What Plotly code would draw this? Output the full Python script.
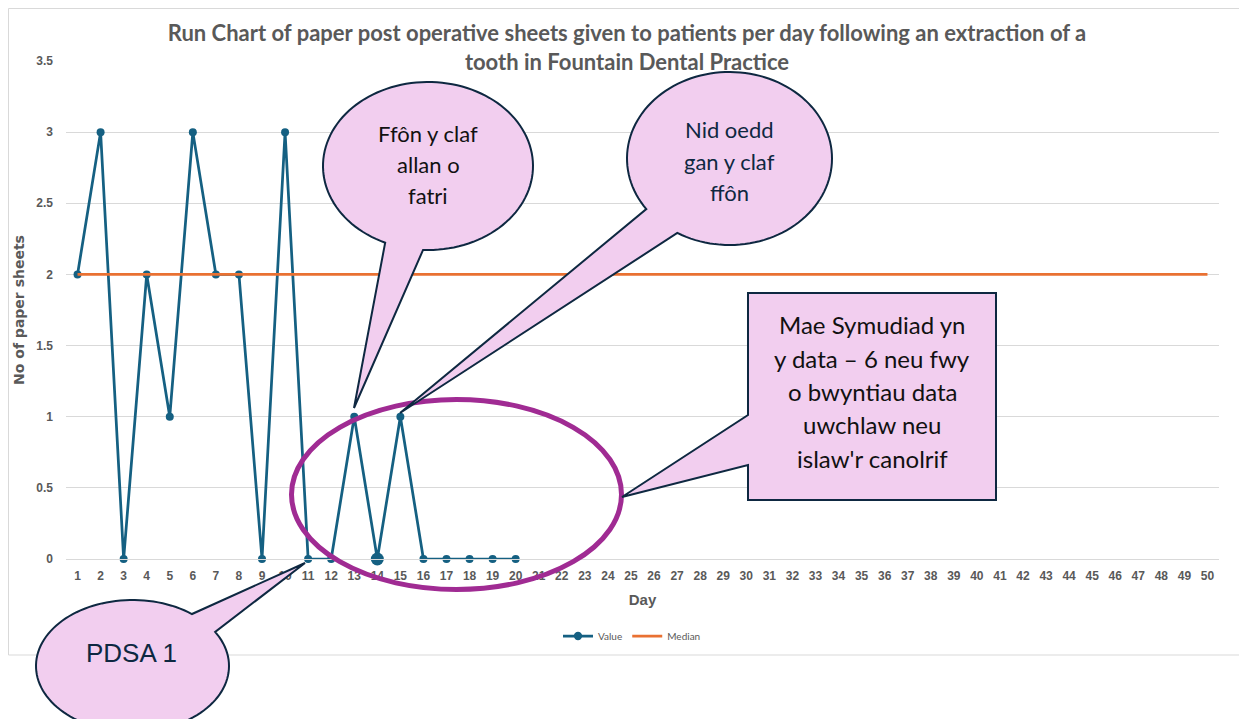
import math
import plotly.graph_objects as go

# ---------------- data ----------------
days = list(range(1, 51))
value_days = list(range(1, 21))
values = [2, 3, 0, 2, 1, 3, 2, 2, 0, 3, 0, 0, 1, 0, 1, 0, 0, 0, 0, 0]
median_value = 2
median_series = [median_value for _ in days]
y_ticks = [0, 0.5, 1, 1.5, 2, 2.5, 3, 3.5]
y_tick_labels = ["0", "0.5", "1", "1.5", "2", "2.5", "3", "3.5"]
highlight_day = 14

title_text = ("Run Chart of paper post operative sheets given to patients per day following an extraction of a"
              "<br>tooth in Fountain Dental Practice")

# ---------------- layout geometry (screen pixels; page has 8px body margin) ----------------
OFF = 8
W, H = 1231, 711
ML, MR, MT, MB = 58, 20, 53, 160
PW, PH = W - ML - MR, H - MT - MB
X0, Y0 = OFF + ML, OFF + MT + PH   # screen position of plot-area left / bottom


def px(x):
    return (x - X0) / PW


def py(y):
    return (Y0 - y) / PH


def path_from(points):
    return "M " + " L ".join(f"{px(x):.5f},{py(y):.5f}" for x, y in points) + " Z"


def ellipse_points(cx, cy, rx, ry, a0, a1, n=120):
    pts = []
    for i in range(n + 1):
        a = a0 + (a1 - a0) * i / n
        pts.append((cx + rx * math.cos(a), cy + ry * math.sin(a)))
    return pts


def wedge_ellipse(cx, cy, rx, ry, b1, b2, tip):
    a1 = math.atan2((b1[1] - cy) / ry, (b1[0] - cx) / rx)
    a2 = math.atan2((b2[1] - cy) / ry, (b2[0] - cx) / rx)
    end = a1
    while end <= a2:
        end += 2 * math.pi
    if end - a2 < math.pi:
        end = a1
        while end >= a2:
            end -= 2 * math.pi
    pts = ellipse_points(cx, cy, rx, ry, a2, end)
    pts.append(tip)
    return path_from(pts)


pink = "#F2CEEF"
navy = "#0E2841"

sizes = [13 if d == highlight_day else 8 for d in value_days]

fig = go.Figure()
fig.add_trace(go.Scatter(
    x=value_days, y=values, mode="lines+markers", name="Value",
    line=dict(color="#156082", width=2.75),
    marker=dict(color="#156082", size=sizes, line=dict(width=0), opacity=1),
    cliponaxis=False,
))
fig.add_trace(go.Scatter(
    x=days, y=median_series, mode="lines", name="Median",
    line=dict(color="#E97132", width=2.75),
    cliponaxis=False,
))

shapes = []
shapes.append(dict(type="rect", xref="paper", yref="paper",
                   x0=px(8.5), x1=px(1270), y0=py(655), y1=py(8.5),
                   line=dict(color="#D9D9D9", width=1), fillcolor="rgba(0,0,0,0)", layer="below"))
shapes.append(dict(type="circle", xref="paper", yref="paper",
                   x0=px(456.5 - 165), x1=px(456.5 + 165), y0=py(494.5 + 95), y1=py(494.5 - 95),
                   line=dict(color="#A02B93", width=5), fillcolor="rgba(0,0,0,0)"))
shapes.append(dict(type="path", xref="paper", yref="paper",
                   path=wedge_ellipse(428, 166, 105, 84, (385, 243), (423, 251), (354, 408)),
                   fillcolor=pink, line=dict(color=navy, width=2)))
shapes.append(dict(type="path", xref="paper", yref="paper",
                   path=wedge_ellipse(729.5, 158.5, 102.5, 86.5, (648, 208), (678, 232), (400, 413)),
                   fillcolor=pink, line=dict(color=navy, width=2)))
shapes.append(dict(type="path", xref="paper", yref="paper",
                   path=wedge_ellipse(132.5, 666, 96.5, 66, (192, 614), (215, 632), (305, 563)),
                   fillcolor=pink, line=dict(color=navy, width=2)))
rect_pts = [(748, 293), (996, 293), (996, 500), (748, 500), (748, 465), (622, 497), (748, 415)]
shapes.append(dict(type="path", xref="paper", yref="paper",
                   path=path_from(rect_pts),
                   fillcolor=pink, line=dict(color=navy, width=2)))

annotations = []


def add_lines(lines, cx, ys, family, size, color):
    for t, y in zip(lines, ys):
        annotations.append(dict(text=t, x=px(cx), y=py(y), xref="paper", yref="paper",
                                showarrow=False, xanchor="center", yanchor="middle",
                                font=dict(family=family, size=size, color=color)))


add_lines(["Ffôn y claf", "allan o", "fatri"], 428, [133, 164, 195], "Lato", 22, "#111111")
add_lines(["Nid oedd", "gan y claf", "ffôn"], 729, [130, 161, 192], "Lato", 22, navy)
add_lines(["Mae Symudiad yn", "y data – 6 neu fwy", "o bwyntiau data", "uwchlaw neu", "islaw'r canolrif"],
          872, [325, 358, 391, 424, 458], "Lato", 24, "#111111")
add_lines(["PDSA 1"], 131, [653], "Liberation Sans", 26, navy)

fig.update_layout(
    width=W, height=H,
    margin=dict(l=ML, r=MR, t=MT, b=MB),
    paper_bgcolor="white", plot_bgcolor="white",
    title=dict(text=title_text, x=(627 - OFF) / W, xanchor="center", xref="container",
               y=1 - 33 / H, yanchor="top", yref="container",
               font=dict(family="Lato", size=22, color="#595959", weight="bold")),
    showlegend=True,
    legend=dict(orientation="h", x=px(632), xanchor="center", y=py(636), yanchor="middle",
                font=dict(family="Lato", size=10, color="#595959"), itemwidth=30,
                bgcolor="rgba(0,0,0,0)"),
    shapes=shapes,
    annotations=annotations,
    xaxis=dict(range=[0.5, 50.5], tickmode="array", tickvals=days, ticktext=[str(d) for d in days],
               showgrid=False, zeroline=False, showline=True, linecolor="#D9D9D9", linewidth=1,
               ticks="", ticklabelstandoff=6,
               tickfont=dict(family="Liberation Sans", size=12, color="#595959", weight="bold"),
               title=dict(text="Day", standoff=12,
                          font=dict(family="Liberation Sans", size=15, color="#595959", weight="bold"))),
    yaxis=dict(range=[0, 3.5], tickmode="array", tickvals=y_ticks, ticktext=y_tick_labels,
               showgrid=True, gridcolor="#D9D9D9", gridwidth=1, zeroline=False, showline=False,
               ticks="", ticklabelstandoff=12,
               tickfont=dict(family="Liberation Sans", size=12, color="#595959", weight="bold"),
               title=dict(text="No of paper sheets", standoff=8,
                          font=dict(family="DejaVu Sans", size=14, color="#595959", weight="bold"))),
)

fig.write_html("out.html")
